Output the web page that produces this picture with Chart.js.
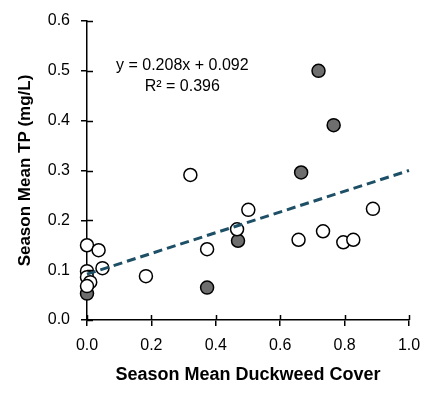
<!DOCTYPE html>
<html>
<head>
<meta charset="utf-8">
<script src="https://cdn.jsdelivr.net/npm/chart.js@4"></script>
<style>
  html, body { margin: 0; padding: 0; background: #fff; }
  #wrap { width: 442px; height: 394px; }
</style>
</head>
<body>
<div id="wrap"><canvas id="tp_chart"></canvas></div>
<script>
// open circles
const open_x = [0.000, 0.036, 0.048, 0.000, 0.000, 0.010, 0.000, 0.183, 0.321, 0.373, 0.466, 0.501, 0.657, 0.733, 0.796, 0.827, 0.888];
const open_y = [0.150, 0.140, 0.104, 0.098, 0.086, 0.076, 0.068, 0.088, 0.291, 0.142, 0.182, 0.221, 0.161, 0.178, 0.156, 0.161, 0.223];
// filled (grey) circles
const filled_x = [0.000, 0.373, 0.469, 0.665, 0.719, 0.766];
const filled_y = [0.053, 0.065, 0.159, 0.296, 0.500, 0.391];

const trend_slope = 0.208;
const trend_intercept = 0.092;
const trend_x = [0, 1];

const x_ticks = [0, 0.2, 0.4, 0.6, 0.8, 1.0];
const y_ticks = [0, 0.1, 0.2, 0.3, 0.4, 0.5, 0.6];

const eq_text = ["y = 0.208x + 0.092", "R\u00B2 = 0.396"];

const ctx = document.getElementById("tp_chart");
const font_family = "'Liberation Sans', Arial, sans-serif";

const toPoints = (xs, ys) => xs.map((x, i) => ({ x: x, y: ys[i] }));

// ticks that cross the axis line (inner half) + equation text
const crossTicks = {
  id: "crossTicks",
  afterDatasetsDraw(chart) {
    const c = chart.ctx;
    const xs = chart.scales.x, ys = chart.scales.y;
    const area = chart.chartArea;
    c.save();
    c.strokeStyle = "#000";
    c.lineWidth = 1.5;
    c.beginPath();
    x_ticks.forEach(v => {
      const px = Math.round(xs.getPixelForValue(v)) + 0.5;
      c.moveTo(px, area.bottom);
      c.lineTo(px, area.bottom - 5);
    });
    y_ticks.forEach(v => {
      const py = Math.round(ys.getPixelForValue(v)) + 0.5;
      c.moveTo(area.left, py);
      c.lineTo(area.left + 6, py);
    });
    c.stroke();
    c.fillStyle = "#000";
    c.font = "16px " + font_family;
    c.textAlign = "center";
    c.textBaseline = "middle";
    const cx = xs.getPixelForValue(0.296);
    c.fillText(eq_text[0], cx, ys.getPixelForValue(0.511));
    c.fillText(eq_text[1], cx, ys.getPixelForValue(0.469));
    c.restore();
  }
};

new Chart(ctx, {
  type: "scatter",
  data: {
    datasets: [
      {
        type: "line",
        data: trend_x.map(x => ({ x: x, y: trend_slope * x + trend_intercept })),
        borderColor: "#1d4f66",
        borderWidth: 3,
        borderDash: [9, 5],
        pointRadius: 0,
        fill: false,
        clip: false,
      },
      {
        data: toPoints(open_x, open_y),
        backgroundColor: "#ffffff",
        borderColor: "#000000",
        borderWidth: 1.5,
        pointRadius: 6.5,
        clip: false,
      },
      {
        data: toPoints(filled_x, filled_y),
        backgroundColor: "#6e6e6e",
        borderColor: "#000000",
        borderWidth: 1.5,
        pointRadius: 6.5,
        clip: false,
      },
    ],
  },
  options: {
    responsive: true,
    maintainAspectRatio: false,
    animation: false,
    layout: { padding: { top: 21, right: 33, bottom: 0, left: 0 } },
    plugins: {
      legend: { display: false },
      tooltip: { enabled: false },
    },
    scales: {
      x: {
        type: "linear",
        min: 0,
        max: 1,
        afterFit: s => { s.height = 74; },
        afterBuildTicks: s => { s.ticks = x_ticks.map(v => ({ value: v })); },
        grid: { drawOnChartArea: false, tickLength: 6, color: "#000", lineWidth: 1.5 },
        border: { color: "#000", width: 1.5 },
        ticks: {
          padding: 10,
          color: "#000",
          font: { family: font_family, size: 16 },
          callback: v => v.toFixed(1),
        },
        title: {
          display: true,
          text: "Season Mean Duckweed Cover",
          color: "#000",
          font: { family: font_family, size: 18, weight: "bold" },
          padding: { top: 0, bottom: 8 },
        },
      },
      y: {
        type: "linear",
        min: 0,
        max: 0.6,
        afterFit: s => { s.width = 87; },
        afterBuildTicks: s => { s.ticks = y_ticks.map(v => ({ value: v })); },
        grid: { drawOnChartArea: false, tickLength: 6, color: "#000", lineWidth: 1.5 },
        border: { color: "#000", width: 1.5 },
        ticks: {
          padding: 11,
          color: "#000",
          font: { family: font_family, size: 16 },
          callback: v => v.toFixed(1),
        },
        title: {
          display: true,
          text: "Season Mean TP (mg/L)",
          color: "#000",
          font: { family: font_family, size: 17, weight: "bold" },
          padding: { top: 15, bottom: 0 },
        },
      },
    },
  },
  plugins: [crossTicks],
});
</script>
</body>
</html>
